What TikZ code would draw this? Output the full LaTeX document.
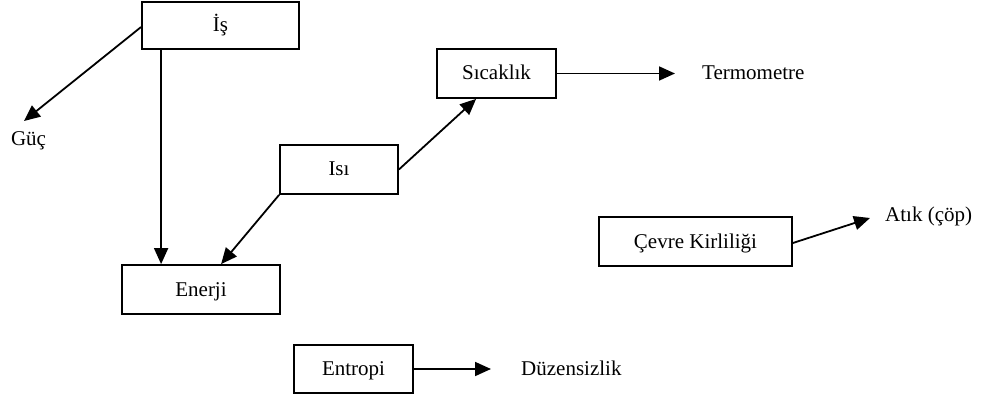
\documentclass[tikz,border=0pt]{standalone}
\usepackage{fontspec}
\setmainfont{Liberation Serif}
\usetikzlibrary{arrows.meta,calc}
\begin{document}
\begin{tikzpicture}[x=1pt,y=-1pt,
  txt/.style={font=\fontsize{21}{25}\selectfont, text height=17pt, text depth=4pt},
  box/.style={txt, draw, line width=1.8pt, inner sep=0pt},
  lbl/.style={txt, inner sep=0pt},
  arr/.style={line width=1.8pt, -{Triangle[length=16pt,width=14pt]}}]
\useasboundingbox (0,0) rectangle (982,398);
% boxes
\node[box, minimum width=157pt, minimum height=47pt] (is)  at (220.5,25.5) {İş};
\node[box, minimum width=119pt, minimum height=49pt] (sic) at (496.5,73.5) {Sıcaklık};
\node[box, minimum width=118pt, minimum height=49pt] (isi) at (339,169.5) {Isı};
\node[box, minimum width=158pt, minimum height=49pt] (en)  at (201,289.5) {Enerji};
\node[box, minimum width=193pt, minimum height=49pt] (cev) at (695.5,241.5) {Çevre Kirliliği};
\node[box, minimum width=119pt, minimum height=48pt] (ent) at (353.5,369) {Entropi};
% labels
\node[lbl] (guc) at (28.5,139) {Güç};
\node[lbl, anchor=west] (term) at (702,73.5) {Termometre};
\node[lbl, anchor=west] (atik) at (885,215) {Atık (çöp)};
\node[lbl, anchor=west] (duz) at (521,369) {Düzensizlik};
\coordinate (gucTip) at (24,121);
% connectors
\draw[arr] ([yshift=-1.5pt]is.west) -- (gucTip);
\draw[arr] ([xshift=20pt]is.south west) -- ([xshift=40pt]en.north west);
\draw[arr] (isi.south west) -- ([xshift=100pt]en.north west);
\draw[arr] (isi.east) -- ([xshift=40pt]sic.south west);
\draw[arr] (sic.east) -- ([xshift=-27pt]term.west);
\draw[arr] ([yshift=-1.5pt]cev.east) -- ($(atik.west)+(-15,3)$);
\draw[arr] (ent.east) -- ([xshift=-30pt]duz.west);
\end{tikzpicture}
\end{document}
